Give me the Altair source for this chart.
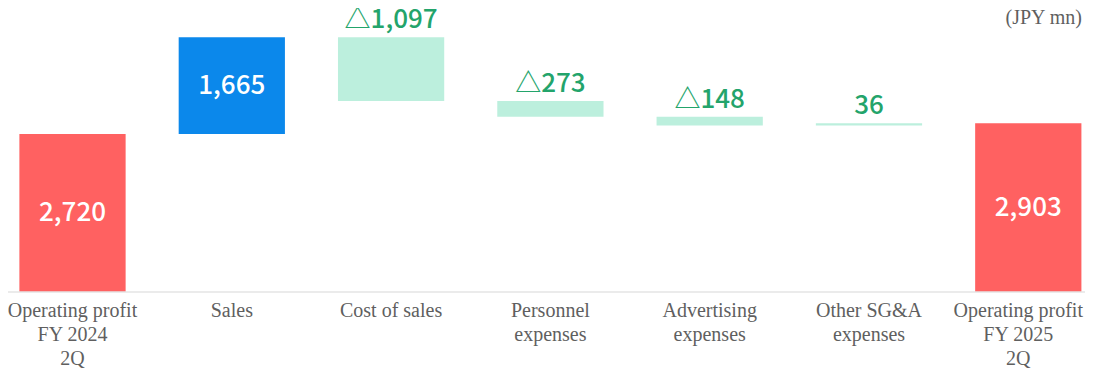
import altair as alt
import pandas as pd

categories = [
    "Operating profit\nFY 2024\n2Q",
    "Sales",
    "Cost of sales",
    "Personnel\nexpenses",
    "Advertising\nexpenses",
    "Other SG&A\nexpenses",
    "Operating profit\nFY 2025\n2Q",
]
values = [2720, 1665, -1097, -273, -148, 36, 2903]
kinds = ["total", "sales", "expense", "expense", "expense", "expense", "total"]
labels = ["2,720", "1,665", "△1,097", "△273", "△148", "36", "2,903"]

rows = []
running = 0
for cat, v, k, lab in zip(categories, values, kinds, labels):
    if k == "total":
        start, end = 0, v
    else:
        start, end = running, running + v
    running = end
    rows.append(dict(cat=cat, start=start, end=end, kind=k, label=lab,
                     top=max(start, end), mid=(start + end) / 2))
df = pd.DataFrame(rows)

W, H = 1077, 284
xscale = alt.Scale(domain=categories, paddingInner=0.333, paddingOuter=0.047, align=0.76)
yscale = alt.Scale(domain=[0, 4889], nice=False)
color = alt.Color("kind:N", scale=alt.Scale(domain=["total", "sales", "expense"],
                                            range=["#FF6161", "#0B88EB", "#BCEFDD"]), legend=None)

base = alt.Chart(df)
bars = base.mark_bar().encode(
    x=alt.X("cat:N", scale=xscale, sort=categories, title=None,
            axis=alt.Axis(labelAngle=0, domain=False, ticks=False, grid=False,
                          labelFont="Liberation Serif", labelFontSize=20, labelColor="#5f5f5f",
                          labelLineHeight=24, labelPadding=8, labelLimit=300,
                          labelOffset={"condition": {"test": "indexof(datum.value, '2025') >= 0",
                                                     "value": -10}, "value": 0},
                          labelExpr="split(datum.label, '\\n')")),
    y=alt.Y("start:Q", scale=yscale, axis=None),
    y2="end:Q",
    color=color,
)

num_font = "Noto Sans CJK JP"

inside = base.transform_filter("datum.kind != 'expense'").mark_text(
    font=num_font, fontSize=26, fontWeight=500, color="white", baseline="middle"
).encode(x=alt.X("cat:N", scale=xscale, sort=categories), y=alt.Y("mid:Q", scale=yscale), text="label:N")

above = base.transform_filter("datum.kind == 'expense'").mark_text(
    font=num_font, fontSize=26, fontWeight=500, color="#23A46B", baseline="alphabetic", dy=-9
).encode(x=alt.X("cat:N", scale=xscale, sort=categories), y=alt.Y("top:Q", scale=yscale), text="label:N")

baseline = alt.Chart(pd.DataFrame({"b": [0]})).mark_rule(color="#E4E4E4", strokeWidth=1.5).encode(
    y=alt.Y("b:Q", scale=yscale), x=alt.value(0), x2=alt.value(W)
)

unit = alt.Chart(pd.DataFrame({"t": ["(JPY mn)"]})).mark_text(
    font="Liberation Serif", fontSize=20, color="#5f5f5f", align="right", baseline="alphabetic"
).encode(x=alt.value(W - 3), y=alt.value(16), text="t:N")

chart = alt.layer(bars, baseline, inside, above, unit).properties(
    width=W, height=H,
    autosize=alt.AutoSizeParams(type="none"),
    padding={"left": 0, "top": 0, "right": 0, "bottom": 85},
).configure_view(stroke=None)

chart.save("out.html", embed_options={"renderer": "svg", "actions": False})
